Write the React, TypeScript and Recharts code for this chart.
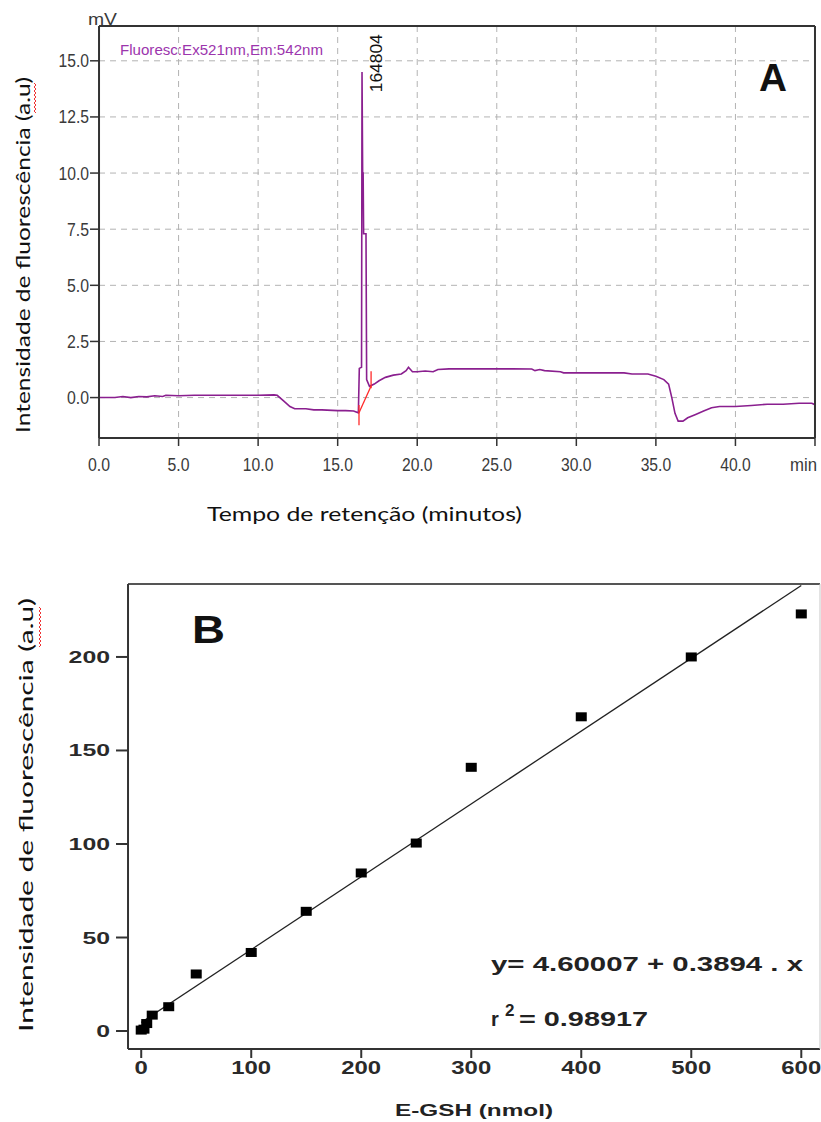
import React from 'react';
import {
  LineChart, Line, XAxis, YAxis, CartesianGrid, ReferenceLine, ReferenceDot,
  ComposedChart, Scatter,
} from 'recharts';

// ---------- Chart A : chromatogram ----------
const retentionMin = [0, 1, 1.5, 2, 2.5, 3, 3.5, 4, 4.2, 5, 6, 7, 8, 9, 10, 11, 11.2, 11.6, 12.0, 12.3, 13, 13.5, 14, 15, 15.5, 16.0, 16.3, 16.36, 16.5, 16.53, 16.57, 16.6, 16.63, 16.78, 16.82, 17.0, 17.3, 17.6, 18.0, 18.5, 19.0, 19.3, 19.45, 19.7, 20.0, 20.5, 21.0, 21.3, 22, 24, 26, 27.2, 27.4, 27.7, 28, 29, 29.2, 31, 33, 33.5, 34.5, 35, 35.5, 35.8, 36.0, 36.2, 36.4, 36.7, 37.0, 37.5, 38.0, 38.5, 39, 40, 41, 42, 43, 44, 44.8, 45];
const signalMv = [0.0, 0.0, 0.05, 0.0, 0.05, 0.03, 0.08, 0.05, 0.1, 0.08, 0.1, 0.1, 0.1, 0.1, 0.1, 0.12, 0.1, -0.15, -0.4, -0.5, -0.5, -0.55, -0.55, -0.58, -0.58, -0.6, -0.68, 1.3, 1.35, 14.5, 10.0, 10.0, 7.3, 7.3, 0.8, 0.5, 0.6, 0.75, 0.9, 1.0, 1.05, 1.2, 1.35, 1.15, 1.15, 1.18, 1.15, 1.25, 1.28, 1.28, 1.28, 1.27, 1.2, 1.25, 1.2, 1.15, 1.1, 1.1, 1.1, 1.05, 1.05, 0.95, 0.8, 0.6, 0.0, -0.7, -1.05, -1.05, -0.9, -0.75, -0.6, -0.45, -0.4, -0.4, -0.35, -0.3, -0.3, -0.25, -0.25, -0.32];
const xTicksA = [0, 5, 10, 15, 20, 25, 30, 35, 40, 45];
const xMinorA = [0, 1, 2, 3, 4, 6, 7, 8, 9, 11, 12, 13, 14, 16, 17, 18, 19, 21, 22, 23, 24, 26, 27, 28, 29, 31, 32, 33, 34, 36, 37, 38, 39, 41, 42, 43, 44];
const yTicksA = [0, 2.5, 5, 7.5, 10, 12.5, 15];
const yMinorA = [-1.5, -1, -0.5, 0.5, 1, 1.5, 2, 3, 3.5, 4, 4.5, 5.5, 6, 6.5, 7, 8, 8.5, 9, 9.5, 10.5, 11, 11.5, 12, 13, 13.5, 14, 14.5, 15.5, 16];
const peakLabel = '164804';
const peakTime = 17.8;
const peakLabelBase = 13.6;
const integStart = { t: 16.34, v: -0.68 };
const integEnd = { t: 17.1, v: 0.52 };

// ---------- Chart B : calibration ----------
const egshNmol = [0, 2.5, 5, 10, 25, 50, 100, 150, 200, 250, 300, 400, 500, 600];
const intensityAU = [0.5, 1, 4, 8.5, 13, 30.5, 42, 64, 84.5, 100.5, 141, 168, 200, 223];
const fitIntercept = 4.60007;
const fitSlope = 0.3894;
const fitRange = [0, 600];
const xTicksB = [0, 100, 200, 300, 400, 500, 600];
const xMinorB = [50, 150, 250, 350, 450, 550];
const yTicksB = [0, 50, 100, 150, 200];
const yMinorB = [25, 75, 125, 175, 225];

const chromData = retentionMin.map((t, i) => ({ t, v: signalMv[i] }));
const calibData = egshNmol.map((x, i) => ({ x, y: intensityAU[i] }));

const NUM_FONT = '"Liberation Sans", Arial, sans-serif';
const TITLE_FONT = 'Lato, "Open Sans", sans-serif';
const THIN = 0.01;

const numWidth = (s: string, d: number, p: number) =>
  s.split('').reduce((a, c) => a + (c === '.' ? p : d), 0);

const TopXTick = (p: any) => {
  const v = p.payload.value;
  const isUnit = v === 45;
  const s = isUnit ? 'min' : Number(v).toFixed(1);
  const w = isUnit ? 27 : numWidth(s, 8.5, 5);
  return (
    <text x={isUnit ? p.x + 2 : p.x} y={p.y + 25} textAnchor={isUnit ? 'end' : 'middle'} fontFamily={NUM_FONT} fontSize={18}
      fill="#3a3a3a" textLength={w} lengthAdjust="spacingAndGlyphs">{s}</text>
  );
};
const TopYTick = (p: any) => {
  const s = Number(p.payload.value).toFixed(1);
  return (
    <text x={p.x} y={p.y + 6.5} textAnchor="end" fontFamily={NUM_FONT} fontSize={18}
      fill="#3a3a3a" textLength={numWidth(s, 8.5, 5)} lengthAdjust="spacingAndGlyphs">{s}</text>
  );
};
const BotXTick = (p: any) => {
  const s = String(p.payload.value);
  return (
    <text x={p.x} y={p.y + 16} textAnchor="middle" fontFamily={NUM_FONT} fontWeight="bold" fontSize={18}
      fill="#2a2a2a" textLength={s.length * 13.3} lengthAdjust="spacingAndGlyphs">{s}</text>
  );
};
const BotYTick = (p: any) => {
  const s = String(p.payload.value);
  return (
    <text x={p.x} y={p.y + 6} textAnchor="end" fontFamily={NUM_FONT} fontWeight="bold" fontSize={16}
      fill="#2a2a2a" textLength={s.length * 13.8} lengthAdjust="spacingAndGlyphs">{s}</text>
  );
};

const PeakText = (props: any) => {
  const vb = props.viewBox || {};
  const x = (vb.x ?? 0) + (vb.width ?? 0) / 2;
  const y = (vb.y ?? 0) + (vb.height ?? 0) / 2;
  return (
    <text transform={`translate(${x},${y}) rotate(-90)`} fontFamily={NUM_FONT} fontSize={16}
      fill="#111" textLength={58} lengthAdjust="spacingAndGlyphs">{peakLabel}</text>
  );
};

const SquareDot = (p: any) => (
  <rect x={p.cx - 5.5} y={p.cy - 4.5} width={11} height={9} fill="#000" />
);

const wavy = (x: number, y0: number, y1: number) => {
  let d = `M${x},${y0}`;
  let k = 0;
  for (let y = y0 + 2; y <= y1; y += 2) {
    d += ` L${x + (k % 2 === 0 ? 2 : 0)},${y}`;
    k++;
  }
  return d;
};

function ChartA() {
  return (
    <LineChart width={821} height={540} data={chromData}
      margin={{ top: 26, right: 6, bottom: 102, left: 99 }}>
      <CartesianGrid xAxisId="m" yAxisId="m" stroke="#b3b3b3" strokeDasharray="6 5" />
      <XAxis xAxisId="m" dataKey="t" type="number" domain={[0, 45]} ticks={xTicksA} interval={0}
        allowDataOverflow height={THIN} tickSize={8} tickMargin={0}
        axisLine={{ stroke: '#333', strokeWidth: 2 }} tickLine={{ stroke: '#333', strokeWidth: 1.5 }}
        tick={(p: any) => <TopXTick {...p} />} />
      <XAxis xAxisId="n" type="number" domain={[0, 45]} ticks={xMinorA} interval={0}
        allowDataOverflow height={THIN} tickSize={5} tick={false} axisLine={false}
        tickLine={{ stroke: '#333', strokeWidth: 1.5 }} />
      <XAxis xAxisId="top" orientation="top" type="number" domain={[0, 45]} height={THIN}
        allowDataOverflow tick={false} tickLine={false} axisLine={{ stroke: '#333', strokeWidth: 2 }} />
      <YAxis yAxisId="m" type="number" domain={[-1.8, 16.55]} ticks={yTicksA} interval={0}
        allowDataOverflow width={THIN} tickSize={9} tickMargin={1}
        axisLine={{ stroke: '#333', strokeWidth: 2 }} tickLine={{ stroke: '#333', strokeWidth: 1.5 }}
        tick={(p: any) => <TopYTick {...p} />} />
      <YAxis yAxisId="n" type="number" domain={[-1.8, 16.55]} ticks={yMinorA} interval={0}
        allowDataOverflow width={THIN} tickSize={4} tick={false} axisLine={false}
        tickLine={{ stroke: '#333', strokeWidth: 1.5 }} />
      <YAxis yAxisId="r" orientation="right" type="number" domain={[-1.8, 16.55]} width={THIN}
        allowDataOverflow tick={false} tickLine={false} axisLine={{ stroke: '#333', strokeWidth: 2 }} />
      <Line xAxisId="m" yAxisId="m" type="linear" dataKey="v" stroke="#8a1f8f" strokeWidth={1.6}
        dot={false} isAnimationActive={false} />
      <ReferenceLine xAxisId="m" yAxisId="m" stroke="#ff2a2a" strokeWidth={1.3}
        segment={[{ x: integStart.t, y: integStart.v }, { x: integEnd.t, y: integEnd.v }]} />
      <ReferenceLine xAxisId="m" yAxisId="m" stroke="#ff2a2a" strokeWidth={1.3}
        segment={[{ x: integStart.t, y: integStart.v + 0.35 }, { x: integStart.t, y: integStart.v - 0.55 }]} />
      <ReferenceLine xAxisId="m" yAxisId="m" stroke="#ff2a2a" strokeWidth={1.3}
        segment={[{ x: integEnd.t, y: integEnd.v + 0.65 }, { x: integEnd.t, y: integEnd.v - 0.1 }]} />
      <ReferenceDot xAxisId="m" yAxisId="m" x={peakTime} y={peakLabelBase} r={0}
        fill="none" stroke="none" label={(p: any) => <PeakText {...p} />} />
    </LineChart>
  );
}

function ChartB() {
  return (
    <ComposedChart width={821} height={577} data={calibData}
      margin={{ top: 39, right: 1, bottom: 73, left: 128 }}>
      <XAxis xAxisId="m" dataKey="x" type="number" domain={[-12, 617]} ticks={xTicksB} interval={0}
        allowDataOverflow height={THIN} tickSize={9} tickMargin={0}
        axisLine={{ stroke: '#333', strokeWidth: 2 }} tickLine={{ stroke: '#333', strokeWidth: 2 }}
        tick={(p: any) => <BotXTick {...p} />} />
      <XAxis xAxisId="n" type="number" domain={[-12, 617]} ticks={xMinorB} interval={0}
        allowDataOverflow height={THIN} tickSize={5} tick={false} axisLine={false}
        tickLine={{ stroke: '#333', strokeWidth: 2 }} />
      <XAxis xAxisId="top" orientation="top" type="number" domain={[-12, 617]} height={THIN}
        allowDataOverflow tick={false} tickLine={false} axisLine={{ stroke: '#555', strokeWidth: 2 }} />
      <YAxis yAxisId="m" dataKey="y" type="number" domain={[-9.6, 239]} ticks={yTicksB} interval={0}
        allowDataOverflow width={THIN} tickSize={12} tickMargin={6}
        axisLine={{ stroke: '#333', strokeWidth: 2 }} tickLine={{ stroke: '#333', strokeWidth: 2 }}
        tick={(p: any) => <BotYTick {...p} />} />
      <YAxis yAxisId="n" type="number" domain={[-9.6, 239]} ticks={yMinorB} interval={0}
        allowDataOverflow width={THIN} tickSize={7} tick={false} axisLine={false}
        tickLine={{ stroke: '#333', strokeWidth: 2 }} />
      <YAxis yAxisId="r" orientation="right" type="number" domain={[-9.6, 239]} width={THIN}
        allowDataOverflow tick={false} tickLine={false} axisLine={{ stroke: '#c8c8c8', strokeWidth: 1 }} />
      <ReferenceLine xAxisId="m" yAxisId="m" stroke="#222" strokeWidth={1.3}
        segment={[
          { x: fitRange[0], y: fitIntercept + fitSlope * fitRange[0] },
          { x: fitRange[1], y: fitIntercept + fitSlope * fitRange[1] },
        ]} />
      <Scatter xAxisId="m" yAxisId="m" dataKey="y" fill="#000" shape={(p: any) => <SquareDot {...p} />}
        isAnimationActive={false} />
    </ComposedChart>
  );
}

export default function App() {
  return (
    <div style={{ position: 'absolute', left: 0, top: 0, width: 821, height: 1122, background: '#fff', overflow: 'hidden' }}>
      <div style={{ position: 'absolute', left: 0, top: 0 }}>
        <ChartA />
      </div>
      <div style={{ position: 'absolute', left: 0, top: 545 }}>
        <ChartB />
      </div>
      <svg width={821} height={1122} style={{ position: 'absolute', left: 0, top: 0, pointerEvents: 'none' }}>
        {/* Chart A texts */}
        <text x={88} y={25} fontFamily={NUM_FONT} fontSize={16} fill="#3a3a3a" textLength={29} lengthAdjust="spacingAndGlyphs">mV</text>
        <text x={120} y={55} fontFamily={NUM_FONT} fontSize={14} fill="#9c35ad" textLength={203} lengthAdjust="spacingAndGlyphs">Fluoresc:Ex521nm,Em:542nm</text>
        <text x={759} y={91} fontFamily={NUM_FONT} fontWeight="bold" fontSize={38} fill="#111" textLength={28} lengthAdjust="spacingAndGlyphs">A</text>
        <text transform="translate(30,255) rotate(-90)" textAnchor="middle" fontFamily={TITLE_FONT} fontSize={19} fill="#111" textLength={356} lengthAdjust="spacingAndGlyphs">Intensidade de fluorescência (a.u)</text>
        <path d={wavy(34, 83, 113)} stroke="#e33" strokeWidth={1} fill="none" />
        <text x={207} y={521} fontFamily={TITLE_FONT} fontSize={20} fill="#111" textLength={315} lengthAdjust="spacingAndGlyphs">Tempo de retenção (minutos)</text>
        {/* Chart B texts */}
        <text x={192} y={643} fontFamily={NUM_FONT} fontWeight="bold" fontSize={39} fill="#111" textLength={33} lengthAdjust="spacingAndGlyphs">B</text>
        <text transform="translate(33,815) rotate(-90)" textAnchor="middle" fontFamily={TITLE_FONT} fontSize={20} fill="#111" textLength={434} lengthAdjust="spacingAndGlyphs">Intensidade de fluorescência (a.u)</text>
        <path d={wavy(39, 607, 647)} stroke="#e33" strokeWidth={1} fill="none" />
        <text x={491} y={971} fontFamily={NUM_FONT} fontWeight="bold" fontSize={20} fill="#222" textLength={312} lengthAdjust="spacingAndGlyphs">y= 4.60007 + 0.3894 . x</text>
        <text x={491} y={1026} fontFamily={NUM_FONT} fontWeight="bold" fontSize={20} fill="#222">r</text>
        <text x={505} y={1016} fontFamily={NUM_FONT} fontWeight="bold" fontSize={17} fill="#222">2</text>
        <text x={519} y={1026} fontFamily={NUM_FONT} fontWeight="bold" fontSize={20} fill="#222" textLength={129} lengthAdjust="spacingAndGlyphs">= 0.98917</text>
        <text x={395} y={1116} fontFamily={NUM_FONT} fontWeight="bold" fontSize={17} fill="#222" textLength={158} lengthAdjust="spacingAndGlyphs">E-GSH (nmol)</text>
      </svg>
    </div>
  );
}
